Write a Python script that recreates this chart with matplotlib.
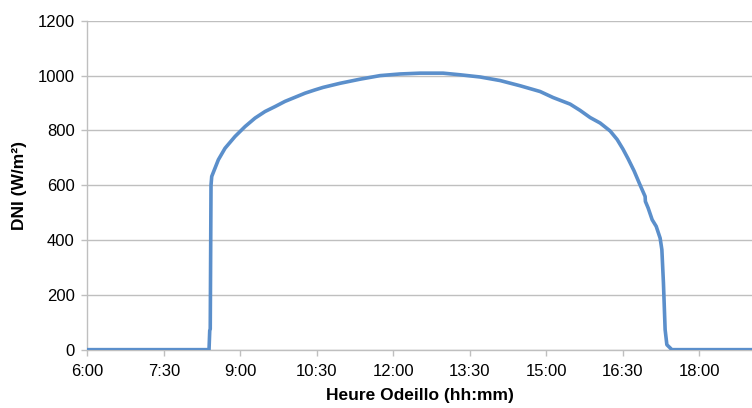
import matplotlib
matplotlib.use("Agg")
import matplotlib.pyplot as plt
from matplotlib.ticker import FixedLocator

# Time (decimal hours, Odeillo local time) and DNI (W/m²)
hours = [6.0, 8.386, 8.40, 8.41, 8.425, 8.439, 8.569, 8.700, 8.896, 9.092, 9.288,
         9.484, 9.680, 9.876, 10.073, 10.269, 10.465, 10.622, 10.955, 11.347,
         11.739, 12.131, 12.524, 12.975, 13.308, 13.700, 14.092, 14.484, 14.876,
         15.131, 15.465, 15.661, 15.857, 16.053, 16.249, 16.386, 16.500, 16.600,
         16.719, 16.838, 16.935, 16.94, 16.994, 17.073, 17.152, 17.229, 17.263,
         17.294, 17.327, 17.361, 17.459, 19.1]
dni = [0, 0, 70, 75, 600, 632, 693, 735, 778, 814, 845,
       869, 887, 906, 921, 936, 948, 957, 972, 987,
       1000, 1006, 1009, 1009, 1003, 995, 982, 963, 942,
       920, 896, 873, 847, 827, 798, 767, 732, 697,
       652, 600, 559, 541, 517, 474, 450, 407, 365,
       243, 73, 18, 0, 0]

xtick_hours = [6, 7.5, 9, 10.5, 12, 13.5, 15, 16.5, 18]
xtick_labels = ["6:00", "7:30", "9:00", "10:30", "12:00", "13:30", "15:00", "16:30", "18:00"]
ytick_values = [0, 200, 400, 600, 800, 1000, 1200]

plt.rcParams['font.family'] = ['Liberation Sans', 'DejaVu Sans']

fig = plt.figure(figsize=(7.52, 4.08), dpi=100)
ax = fig.add_axes([0.1161, 0.143, 0.8839, 0.806])

grid_c = '#BFBFBF'
ax.plot(hours, dni, color='#5B8FCB', lw=2.6, solid_joinstyle='round', zorder=3)

ax.set_xlim(6.0, 19.03)
ax.set_ylim(0, 1200)
ax.xaxis.set_major_locator(FixedLocator(xtick_hours))
ax.set_xticklabels(xtick_labels)
ax.set_yticks(ytick_values)
ax.yaxis.grid(True, color=grid_c, lw=1.0)
ax.set_axisbelow(True)

for s in ['top', 'right']:
    ax.spines[s].set_visible(False)
for s in ['left', 'bottom']:
    ax.spines[s].set_color(grid_c)
    ax.spines[s].set_linewidth(1.0)

ax.tick_params(axis='both', colors=grid_c, length=4, width=1.0, direction='out',
               labelsize=12, labelcolor='black')
ax.tick_params(axis='x', pad=6)
ax.tick_params(axis='y', pad=5)

ax.set_xlabel("Heure Odeillo (hh:mm)", fontsize=12.5, fontweight='bold', labelpad=7)
ax.set_ylabel("DNI (W/m²)", fontsize=12.5, fontweight='bold', labelpad=8)

fig.savefig("out.png", dpi=100)
